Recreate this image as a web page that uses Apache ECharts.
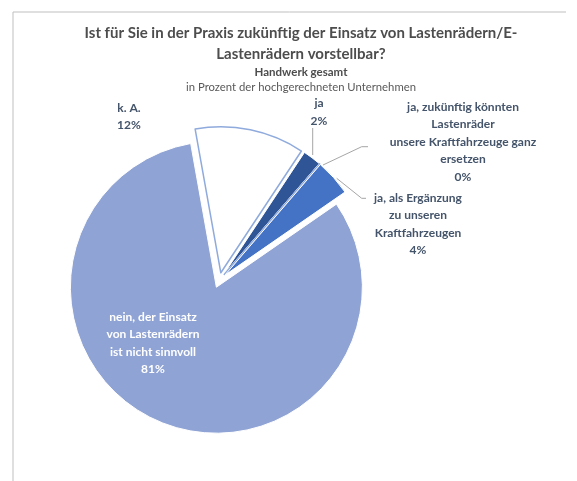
<!DOCTYPE html>
<html><head><meta charset="utf-8">
<script src="https://cdn.jsdelivr.net/npm/echarts@6/dist/echarts.min.js"></script>
<style>html,body{margin:0;padding:0;background:#fff}#c{width:577px;height:481px}</style>
</head><body><div id="c"></div>
<script>
// ---- data ----
const categories = [
  'ja',
  'ja, zukünftig könnten\nLastenräder\nunsere Kraftfahrzeuge ganz\nersetzen',
  'ja, als Ergänzung\nzu unseren\nKraftfahrzeugen',
  'nein, der Einsatz\nvon Lastenrädern\nist nicht sinnvoll',
  'k. A.'
];
const values = [2, 0, 4, 81, 12];
const titleLines = ['Ist für Sie in der Praxis zukünftig der Einsatz von Lastenrädern/E-', 'Lastenrädern vorstellbar?'];
const subTitle = 'Handwerk gesamt';
const unitNote = 'in Prozent der hochgerechneten Unternehmen';

// ---- styles / layout ----
const sliceColors = ['#2F5597', '#FFFFFF', '#4472C4', '#8FA3D4', '#FFFFFF'];
const sliceBorders = ['#FFFFFF', '#8FAADC', '#FFFFFF', '#FFFFFF', '#8FAADC'];
const labelColors = ['#44546A', '#44546A', '#44546A', '#FFFFFF', '#44546A'];
const labelPos = [[319, 112], [463, 142], [418, 224], [153, 343], [129, 116.5]];
const leaderLines = [
  [[312.7, 155], [312.7, 128]],
  [[323, 165], [361.7, 146.7], [368, 146.7]],
  [[336.7, 178.3], [361.7, 198.3], [366, 198.3]],
  null,
  null
];
const FONT = 'Lato';

const chart = echarts.init(document.getElementById('c'), null, {renderer: 'canvas'});
const data = categories.map((n, i) => ({
  name: n,
  value: values[i],
  selected: true,
  itemStyle: {color: sliceColors[i], borderColor: sliceBorders[i], borderWidth: sliceBorders[i] === '#FFFFFF' ? 1 : 1.5}
}));

const graphics = [
  {type: 'line', shape: {x1: 13, y1: 12, x2: 566, y2: 12}, style: {stroke: '#BFBFBF', lineWidth: 1}},
  {type: 'line', shape: {x1: 13, y1: 12, x2: 13, y2: 481}, style: {stroke: '#BFBFBF', lineWidth: 1}},
  {type: 'text', x: 301, y: 33, style: {text: titleLines[0], align: 'center', verticalAlign: 'middle', font: 'bold 15px ' + FONT, fill: '#4D4D4D'}},
  {type: 'text', x: 301, y: 54, style: {text: titleLines[1], align: 'center', verticalAlign: 'middle', font: 'bold 15px ' + FONT, fill: '#4D4D4D'}},
  {type: 'text', x: 301, y: 72, style: {text: subTitle, align: 'center', verticalAlign: 'middle', font: 'bold 11.5px ' + FONT, fill: '#4D4D4D'}},
  {type: 'text', x: 301, y: 87, style: {text: unitNote, align: 'center', verticalAlign: 'middle', font: '11.3px ' + FONT, fill: '#595959'}}
];
categories.forEach((n, i) => {
  if (leaderLines[i]) {
    graphics.push({type: 'polyline', shape: {points: leaderLines[i]}, style: {stroke: '#A6A6A6', lineWidth: 1, fill: null}, z: 10});
  }
  graphics.push({
    type: 'text', x: labelPos[i][0], y: labelPos[i][1], z: 10,
    style: {text: n + '\n' + values[i] + '%', align: 'center', verticalAlign: 'middle',
      font: 'bold 12px ' + FONT, lineHeight: 17.5, fill: labelColors[i]}
  });
});

chart.setOption({
  animation: false,
  backgroundColor: '#ffffff',
  graphic: graphics,
  series: [{
    type: 'pie',
    center: [219.3, 280.2],
    radius: 146,
    startAngle: 56.5,
    clockwise: true,
    selectedMode: 'multiple',
    selectedOffset: 7.6,
    emphasis: {disabled: true},
    label: {show: false},
    labelLine: {show: false},
    data: data
  }]
});
</script></body></html>
